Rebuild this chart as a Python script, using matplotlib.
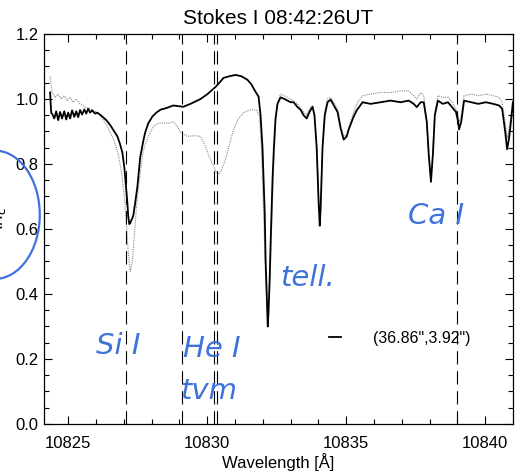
import numpy as np
import matplotlib
matplotlib.use('Agg')
import matplotlib.pyplot as plt
from matplotlib.patches import Ellipse

plt.rcParams['font.family'] = ['Liberation Sans', 'DejaVu Sans']

# Stokes I profile at the chosen pixel (solid) and the reference profile (dotted)
wl_black = [10824.35, 10824.39, 10824.42, 10824.50, 10824.57, 10824.64, 10824.71, 10824.78,
            10824.86, 10824.93, 10825.00, 10825.07, 10825.14, 10825.22, 10825.29, 10825.36,
            10825.43, 10825.50, 10825.58, 10825.65, 10825.72, 10825.79, 10825.86, 10825.97,
            10826.05, 10826.23, 10826.37, 10826.51, 10826.66, 10826.77, 10826.87, 10826.95,
            10827.02, 10827.05, 10827.13, 10827.16, 10827.20, 10827.23, 10827.34, 10827.41,
            10827.49, 10827.59, 10827.70, 10827.77, 10827.88, 10828.03, 10828.17, 10828.32,
            10828.53, 10828.78, 10828.96, 10829.14, 10829.40, 10829.76, 10830.01, 10830.30,
            10830.44, 10830.59, 10830.80, 10831.02, 10831.23, 10831.45, 10831.59, 10831.74,
            10831.85, 10831.92, 10831.99, 10832.07, 10832.10, 10832.14, 10832.18, 10832.21,
            10832.25, 10832.28, 10832.35, 10832.40, 10832.46, 10832.53, 10832.64, 10832.78,
            10832.89, 10833.00, 10833.11, 10833.25, 10833.36, 10833.47, 10833.58, 10833.68,
            10833.79, 10833.86, 10833.94, 10834.01, 10834.05, 10834.08, 10834.15, 10834.23,
            10834.33, 10834.44, 10834.59, 10834.69, 10834.80, 10834.91, 10835.02, 10835.09,
            10835.20, 10835.27, 10835.38, 10835.59, 10835.88, 10836.24, 10836.60, 10836.96,
            10837.25, 10837.43, 10837.54, 10837.68, 10837.79, 10837.90, 10837.97, 10838.05,
            10838.12, 10838.19, 10838.30, 10838.48, 10838.66, 10838.81, 10838.95, 10839.03,
            10839.06, 10839.14, 10839.24, 10839.50, 10839.75, 10840.03, 10840.29, 10840.50,
            10840.61, 10840.72, 10840.79, 10840.86, 10840.94, 10841.00]
i_black = [1.02, 0.957, 0.955, 0.940, 0.962, 0.935, 0.960, 0.940,
           0.962, 0.937, 0.958, 0.940, 0.965, 0.945, 0.962, 0.944,
           0.966, 0.952, 0.968, 0.955, 0.970, 0.958, 0.965, 0.955,
           0.958, 0.946, 0.935, 0.920, 0.900, 0.885, 0.860, 0.835,
           0.790, 0.760, 0.680, 0.640, 0.615, 0.618, 0.640, 0.680,
           0.730, 0.820, 0.870, 0.897, 0.925, 0.946, 0.958, 0.967,
           0.972, 0.980, 0.978, 0.976, 0.985, 1.000, 1.015, 1.037,
           1.050, 1.065, 1.070, 1.074, 1.070, 1.059, 1.045, 1.022,
           1.007, 0.950, 0.850, 0.650, 0.510, 0.400, 0.300, 0.350,
           0.450, 0.550, 0.750, 0.850, 0.940, 0.985, 1.005, 1.000,
           0.995, 0.990, 0.990, 0.975, 0.967, 0.950, 0.940, 0.960,
           0.976, 0.950, 0.850, 0.680, 0.610, 0.660, 0.850, 0.950,
           0.990, 0.998, 0.975, 0.960, 0.910, 0.875, 0.885, 0.906,
           0.930, 0.946, 0.965, 0.990, 0.985, 0.990, 0.995, 0.990,
           0.995, 0.985, 0.975, 0.990, 0.990, 0.930, 0.830, 0.745,
           0.830, 0.950, 0.995, 0.985, 0.990, 0.975, 0.960, 0.930,
           0.906, 0.930, 0.995, 0.990, 0.985, 0.990, 0.985, 0.980,
           0.970, 0.900, 0.845, 0.880, 0.940, 0.990]

wl_gray = [10824.35, 10824.42, 10824.53, 10824.64, 10824.75, 10824.86, 10824.96, 10825.07,
           10825.18, 10825.29, 10825.43, 10825.61, 10825.79, 10826.05, 10826.23, 10826.44,
           10826.66, 10826.80, 10826.91, 10827.02, 10827.09, 10827.16, 10827.23, 10827.31,
           10827.38, 10827.45, 10827.52, 10827.59, 10827.70, 10827.81, 10827.92, 10828.06,
           10828.24, 10828.42, 10828.60, 10828.78, 10828.93, 10829.04, 10829.29, 10829.58,
           10829.76, 10829.94, 10830.08, 10830.23, 10830.33, 10830.40, 10830.51, 10830.66,
           10830.80, 10830.95, 10831.13, 10831.31, 10831.49, 10831.63, 10831.78, 10831.88,
           10831.95, 10832.03, 10832.10, 10832.18, 10832.25, 10832.32, 10832.40, 10832.46,
           10832.53, 10832.64, 10832.78, 10833.00, 10833.25, 10833.47, 10833.58, 10833.68,
           10833.79, 10833.86, 10833.94, 10834.01, 10834.05, 10834.08, 10834.15, 10834.23,
           10834.33, 10834.44, 10834.59, 10834.69, 10834.80, 10834.91, 10835.02, 10835.09,
           10835.20, 10835.27, 10835.38, 10835.59, 10835.88, 10836.24, 10836.60, 10836.96,
           10837.25, 10837.43, 10837.54, 10837.68, 10837.79, 10837.90, 10837.97, 10838.05,
           10838.12, 10838.19, 10838.30, 10838.48, 10838.66, 10838.81, 10838.95, 10839.03,
           10839.06, 10839.14, 10839.24, 10839.50, 10839.75, 10840.03, 10840.29, 10840.50,
           10840.61, 10840.72, 10840.79, 10840.86, 10840.94, 10841.00]
i_gray = [1.070, 1.020, 1.005, 1.015, 1.000, 1.010, 0.995, 1.005,
          0.990, 1.000, 0.985, 0.975, 0.970, 0.958, 0.940, 0.910,
          0.870, 0.830, 0.780, 0.700, 0.620, 0.530, 0.470, 0.500,
          0.580, 0.660, 0.720, 0.770, 0.840, 0.870, 0.890, 0.915,
          0.925, 0.927, 0.925, 0.930, 0.915, 0.897, 0.885, 0.887,
          0.885, 0.854, 0.820, 0.793, 0.775, 0.768, 0.780, 0.814,
          0.860, 0.906, 0.940, 0.958, 0.965, 0.967, 0.965, 0.950,
          0.850, 0.650, 0.450, 0.320, 0.420, 0.600, 0.820, 0.930,
          0.990, 1.015, 1.010, 1.000, 0.985, 0.960, 0.950, 0.970,
          0.980, 0.950, 0.850, 0.700, 0.630, 0.680, 0.860, 0.960,
          1.000, 1.005, 0.985, 0.970, 0.920, 0.885, 0.890, 0.910,
          0.940, 0.960, 0.985, 1.010, 1.015, 1.020, 1.020, 1.025,
          1.025, 1.010, 1.000, 1.020, 1.010, 0.930, 0.830, 0.745,
          0.840, 0.960, 1.010, 1.005, 1.005, 0.990, 0.970, 0.950,
          0.930, 0.950, 1.010, 1.015, 1.010, 1.015, 1.010, 1.005,
          0.990, 0.930, 0.880, 0.910, 0.960, 1.000]

# line positions marked with dashed lines (Si I, He I blue, He I red pair, Ca I)
line_pos = [10827.09, 10829.09, 10830.25, 10830.34, 10838.97]

label_black = '(36.86",3.92")'
title = 'Stokes I 08:42:26UT'

# handwritten notes on the scanned plot
notes = ['Si I', 'He I', 'tvm', 'tell.', 'Ca I']
note_wl = [10826.8, 10830.15, 10830.05, 10833.6, 10838.25]
note_i = [0.24, 0.23, 0.10, 0.45, 0.64]

pen = '#3f72db'

fig = plt.figure(figsize=(5.23, 4.72), dpi=100)
ax = fig.add_axes([0.0841, 0.1017, 0.8967, 0.8263])

ax.plot(wl_gray, i_gray, color='#8a8a8a', lw=0.8, ls=(0, (1, 1)))
hb, = ax.plot(wl_black, i_black, color='k', lw=1.3)

for p in line_pos:
    ax.axvline(p, color='k', lw=0.8, dashes=(12, 6))

ax.set_xlim(10824.13, 10841.0)
ax.set_ylim(0.0, 1.2)
ax.set_xticks([10825, 10830, 10835, 10840])
ax.set_xticks(np.arange(10825, 10841, 1), minor=True)
ax.set_yticks([0.0, 0.2, 0.4, 0.6, 0.8, 1.0, 1.2])
ax.set_yticks(np.arange(0, 1.21, 0.05), minor=True)
ax.set_yticklabels(['0.0', '0.2', '0.4', '0.6', '0.8', '1.0', '1.2'])
ax.tick_params(which='both', direction='in', top=True, right=True, labelsize=12)
ax.tick_params(which='major', length=6, width=0.8)
ax.tick_params(which='minor', length=3.5, width=0.8)
ax.tick_params(axis='x', which='major', pad=9)
ax.tick_params(axis='y', which='major', pad=4)
for s in ax.spines.values():
    s.set_linewidth(0.9)

ax.set_xlabel('Wavelength [Å]', fontsize=12, labelpad=1)
ax.set_title(title, fontsize=15, pad=7)
# y label is cut by the left edge of the scan, only the subscript shows
fig.text(-0.003, 0.538, 'I/I$_c$', rotation=90, fontsize=13, ha='center', va='center')

ax.legend([hb], [label_black], loc='center left', bbox_to_anchor=(0.59, 0.22),
          frameon=False, handlelength=0.8, handletextpad=2.0, borderpad=0,
          fontsize=11.5)

for t, x, y in zip(notes, note_wl, note_i):
    ax.text(x, y, t, color=pen, fontsize=21, fontstyle='italic',
            family='DejaVu Sans', weight='light', ha='center', va='center')

fig.patches.append(Ellipse((-0.01, 0.545), 0.172, 0.272, transform=fig.transFigure,
                           fill=False, edgecolor=pen, lw=1.6))

fig.savefig('out.png', dpi=100)
